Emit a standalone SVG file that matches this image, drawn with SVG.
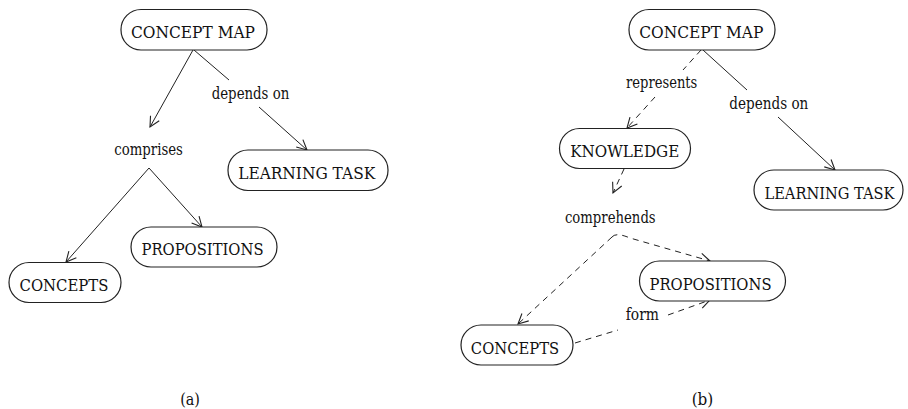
<svg xmlns="http://www.w3.org/2000/svg" width="908" height="409" viewBox="0 0 908 409">
<style>
.node rect{fill:#fff;stroke:#222;stroke-width:1.2}
.nt,.lt{font-family:"DejaVu Serif","Liberation Serif",serif;font-size:16px;fill:#111;text-anchor:middle}
.e{stroke:#222;stroke-width:1;fill:none}
.d{stroke-dasharray:6 5}
.arr{marker-end:url(#ah)}
</style>
<defs>
<marker id="ah" viewBox="0 0 12 12" refX="11" refY="6" markerWidth="12" markerHeight="12" markerUnits="userSpaceOnUse" orient="auto">
<path d="M1,1 L11,6 L1,11" fill="none" stroke="#222" stroke-width="1.1"/>
</marker>
</defs>
<rect width="908" height="409" fill="#fff"/>
<g id="connectors">
<line class="e arr" x1="193" y1="50" x2="150" y2="127"/>
<line class="e" x1="194" y1="50" x2="229" y2="80"/>
<line class="e arr" x1="259" y1="107" x2="307" y2="150"/>
<line class="e arr" x1="149" y1="168" x2="66" y2="262"/>
<line class="e arr" x1="149" y1="168" x2="202" y2="227"/>
<line class="e d" x1="701" y1="50" x2="683" y2="70"/>
<line class="e d arr" x1="655" y1="97" x2="627" y2="128"/>
<line class="e" x1="703" y1="50" x2="747" y2="90"/>
<line class="e arr" x1="778" y1="117" x2="835" y2="170"/>
<line class="e d arr" x1="624" y1="169" x2="613" y2="193"/>
<path class="e d arr" d="M612,237 Q616,232 630,238 L710,261"/>
<line class="e d arr" x1="612" y1="237" x2="518" y2="324"/>
<path class="e d" d="M575,343 L618,330"/>
<line class="e d arr" x1="668" y1="315" x2="710" y2="300"/>
</g>
<g id="a-concept-map" class="node"><rect x="121" y="9.5" width="146" height="40.5" rx="20"/><text class="nt" x="193" y="38" textLength="124" lengthAdjust="spacingAndGlyphs">CONCEPT MAP</text></g>
<g id="a-learning-task" class="node"><rect x="228" y="150" width="160" height="40.5" rx="20"/><text class="nt" x="306.7" y="179" textLength="137" lengthAdjust="spacingAndGlyphs">LEARNING TASK</text></g>
<g id="a-propositions" class="node"><rect x="131" y="227" width="146" height="40" rx="20"/><text class="nt" x="202.5" y="255" textLength="122" lengthAdjust="spacingAndGlyphs">PROPOSITIONS</text></g>
<g id="a-concepts" class="node"><rect x="9" y="262.5" width="112" height="40" rx="20"/><text class="nt" x="64" y="291" textLength="89" lengthAdjust="spacingAndGlyphs">CONCEPTS</text></g>
<g id="a-labels">
<text class="lt" x="250.5" y="99" textLength="77.6" lengthAdjust="spacingAndGlyphs">depends on</text>
<text class="lt" x="148.6" y="155" textLength="68.7" lengthAdjust="spacingAndGlyphs">comprises</text>
<text class="lt" x="190" y="405" textLength="19.7" lengthAdjust="spacingAndGlyphs">(a)</text>
</g>
<g id="b-concept-map" class="node"><rect x="629" y="9.5" width="146" height="40.5" rx="20"/><text class="nt" x="701.3" y="38" textLength="124" lengthAdjust="spacingAndGlyphs">CONCEPT MAP</text></g>
<g id="b-knowledge" class="node"><rect x="559.5" y="128.5" width="131" height="40" rx="20"/><text class="nt" x="624.7" y="157" textLength="109" lengthAdjust="spacingAndGlyphs">KNOWLEDGE</text></g>
<g id="b-learning-task" class="node"><rect x="754" y="170" width="149" height="40" rx="20"/><text class="nt" x="829.5" y="199" textLength="130" lengthAdjust="spacingAndGlyphs">LEARNING TASK</text></g>
<g id="b-propositions" class="node"><rect x="639.5" y="261" width="146" height="40" rx="20"/><text class="nt" x="710.5" y="290" textLength="122" lengthAdjust="spacingAndGlyphs">PROPOSITIONS</text></g>
<g id="b-concepts" class="node"><rect x="461" y="325" width="112" height="40" rx="20"/><text class="nt" x="515" y="354" textLength="88.3" lengthAdjust="spacingAndGlyphs">CONCEPTS</text></g>
<g id="b-labels">
<text class="lt" x="661.7" y="87.5" textLength="71.3" lengthAdjust="spacingAndGlyphs">represents</text>
<text class="lt" x="768.8" y="108.5" textLength="79" lengthAdjust="spacingAndGlyphs">depends on</text>
<text class="lt" x="610.3" y="223.3" textLength="90.7" lengthAdjust="spacingAndGlyphs">comprehends</text>
<text class="lt" x="642.3" y="320" textLength="33.3" lengthAdjust="spacingAndGlyphs">form</text>
<text class="lt" x="702.5" y="405" textLength="21.6" lengthAdjust="spacingAndGlyphs">(b)</text>
</g>
</svg>
